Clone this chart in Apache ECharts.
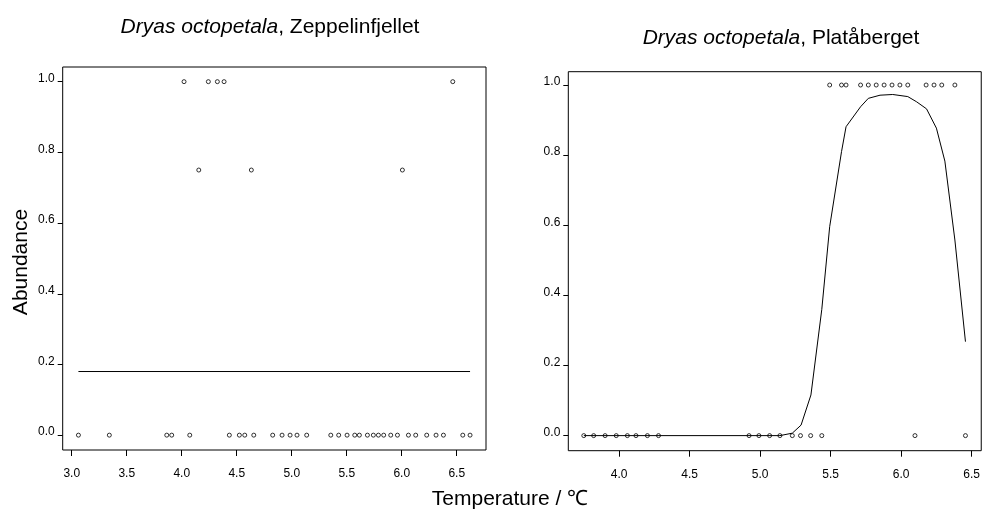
<!DOCTYPE html>
<html>
<head>
<meta charset="utf-8">
<script src="https://cdn.jsdelivr.net/npm/echarts@6/dist/echarts.min.js"></script>
<style>html,body{margin:0;padding:0;background:#fff;}#c{width:983px;height:514px;}</style>
</head>
<body>
<div id="c"></div>
<script>
// Zeppelinfjellet observations
const zepTemp = [3.061,3.342,3.864,3.909,4.073,4.433,4.524,4.573,4.655,4.827,4.912,4.985,5.048,5.136,5.355,5.427,5.503,5.573,5.615,5.688,5.742,5.788,5.836,5.900,5.961,6.061,6.127,6.227,6.312,6.379,6.555,6.621,
  4.021,4.242,4.324,4.385,6.464,
  4.155,4.633,6.006];
const zepAbund = [0,0,0,0,0,0,0,0,0,0,0,0,0,0,0,0,0,0,0,0,0,0,0,0,0,0,0,0,0,0,0,0,
  1,1,1,1,1,
  0.75,0.75,0.75];
// Zeppelinfjellet fitted response
const zepFitTemp = [3.061, 6.621];
const zepFitAbund = [0.18, 0.18];

// Platåberget observations
const plaTemp = [3.749,3.819,3.900,3.979,4.058,4.119,4.200,4.279,4.921,4.991,5.067,5.140,5.228,5.286,5.358,5.437,6.098,6.456,
  5.493,5.577,5.609,5.712,5.767,5.823,5.879,5.935,5.991,6.047,6.177,6.233,6.288,6.381];
const plaAbund = [0,0,0,0,0,0,0,0,0,0,0,0,0,0,0,0,0,0,
  1,1,1,1,1,1,1,1,1,1,1,1,1,1];
// Platåberget fitted response
const plaFitTemp = [3.749,5.140,5.228,5.290,5.360,5.437,5.493,5.577,5.609,5.712,5.767,5.850,5.940,6.047,6.110,6.180,6.250,6.310,6.381,6.456];
const plaFitAbund = [0,0,0.007,0.03,0.116,0.36,0.596,0.81,0.881,0.938,0.962,0.971,0.973,0.967,0.952,0.932,0.877,0.783,0.558,0.268];

// tick labels
const yTicks = [0, 0.2, 0.4, 0.6, 0.8, 1.0];
const zepXTicks = [3.0, 3.5, 4.0, 4.5, 5.0, 5.5, 6.0, 6.5];
const plaXTicks = [4.0, 4.5, 5.0, 5.5, 6.0, 6.5];

const FONT = "'Liberation Sans', Arial, Helvetica, sans-serif";
const pairs = (xs, ys) => xs.map((x, i) => [x, ys[i]]);

function xAxisCfg(grid, min, max, ticks) {
  return {
    type: 'value', gridIndex: grid, min: min, max: max, position: 'bottom',
    axisLine: {show: false, onZero: false}, splitLine: {show: false},
    axisTick: {show: true, inside: false, length: 6, customValues: ticks, lineStyle: {color: '#000', width: 1}},
    axisLabel: {show: true, customValues: ticks, margin: 18, color: '#000', fontSize: 12, fontFamily: FONT,
      formatter: v => v.toFixed(1)}
  };
}
function yAxisCfg(grid, min, max) {
  return {
    type: 'value', gridIndex: grid, min: min, max: max, position: 'left',
    axisLine: {show: false, onZero: false}, splitLine: {show: false},
    axisTick: {show: true, inside: false, length: 5, customValues: yTicks, lineStyle: {color: '#000', width: 1}},
    axisLabel: {show: true, customValues: yTicks, margin: 8, color: '#000', fontSize: 12, fontFamily: FONT,
      verticalAlign: 'bottom', lineHeight: 6, formatter: v => v.toFixed(1)}
  };
}
const pointStyle = {color: 'rgba(0,0,0,0)', borderColor: '#000', borderWidth: 1};

const chart = echarts.init(document.getElementById('c'), null, {renderer: 'canvas'});
chart.setOption({
  animation: false,
  backgroundColor: '#fff',
  grid: [
    {left: 62.7, top: 67, width: 423.3, height: 383, show: true, borderColor: '#000', borderWidth: 1, containLabel: false},
    {left: 568.3, top: 71.7, width: 419.7, height: 379, show: true, borderColor: '#000', borderWidth: 1, containLabel: false}
  ],
  xAxis: [
    xAxisCfg(0, 2.918, 6.766, zepXTicks),
    xAxisCfg(1, 3.639, 6.568, plaXTicks)
  ],
  yAxis: [
    yAxisCfg(0, -0.042, 1.0415),
    yAxisCfg(1, -0.043, 1.038)
  ],
  series: [
    {type: 'line', xAxisIndex: 0, yAxisIndex: 0, data: pairs(zepFitTemp, zepFitAbund), symbol: 'none',
      lineStyle: {color: '#000', width: 1}, silent: true},
    {type: 'scatter', xAxisIndex: 0, yAxisIndex: 0, data: pairs(zepTemp, zepAbund), symbol: 'circle', symbolSize: 4,
      itemStyle: pointStyle, silent: true},
    {type: 'line', xAxisIndex: 1, yAxisIndex: 1, data: pairs(plaFitTemp, plaFitAbund), symbol: 'none',
      lineStyle: {color: '#000', width: 1}, silent: true},
    {type: 'scatter', xAxisIndex: 1, yAxisIndex: 1, data: pairs(plaTemp, plaAbund), symbol: 'circle', symbolSize: 4,
      itemStyle: pointStyle, silent: true}
  ],
  graphic: [
    {type: 'text', x: 270, y: 27, style: {text: '{i|Dryas octopetala}, Zeppelinfjellet', fill: '#000',
      fontSize: 21, fontFamily: FONT, align: 'center', verticalAlign: 'middle', textAlign: 'center', textVerticalAlign: 'middle',
      rich: {i: {fontStyle: 'italic', fontSize: 21, fontFamily: FONT, fill: '#000'}}}},
    {type: 'text', x: 781, y: 38, style: {text: '{i|Dryas octopetala}, Platåberget', fill: '#000',
      fontSize: 21, fontFamily: FONT, align: 'center', verticalAlign: 'middle', textAlign: 'center', textVerticalAlign: 'middle',
      rich: {i: {fontStyle: 'italic', fontSize: 21, fontFamily: FONT, fill: '#000'}}}},
    {type: 'text', x: 21, y: 262, rotation: Math.PI / 2, style: {text: 'Abundance', fill: '#000',
      fontSize: 21, fontFamily: FONT, align: 'center', verticalAlign: 'middle', textAlign: 'center', textVerticalAlign: 'middle'}},
    {type: 'text', x: 510, y: 499, style: {text: 'Temperature / ℃', fill: '#000',
      fontSize: 21, fontFamily: FONT, align: 'center', verticalAlign: 'middle', textAlign: 'center', textVerticalAlign: 'middle'}}
  ]
});
</script>
</body>
</html>
